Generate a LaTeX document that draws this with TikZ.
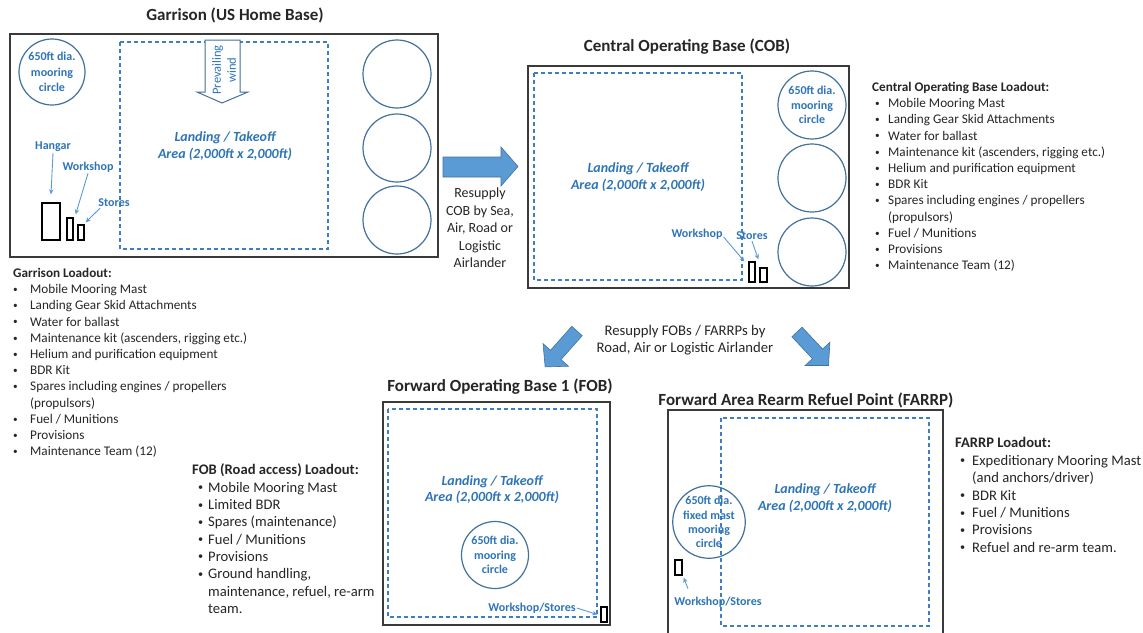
\documentclass[tikz,border=0pt]{standalone}
\usepackage{graphicx}
\usepackage{fontspec}
\setmainfont{Carlito}
\usetikzlibrary{arrows.meta}
\definecolor{txtblue}{HTML}{2E75B6}
\definecolor{lineblue}{HTML}{41719C}
\definecolor{fillblue}{HTML}{5B9BD5}
\definecolor{dashblue}{HTML}{3D7FC1}
\definecolor{boxgray}{HTML}{3A3A3A}
\definecolor{ink}{HTML}{262626}

% bullet lists: indent of the bullet and start of the item text
\newlength\bulind
\newlength\bultxt
\newcommand\smallbullet{\raisebox{0.1em}{\scalebox{0.7}{\textbullet}}}
\newcommand\bu{\makebox[\bultxt][l]{\hspace{\bulind}\smallbullet}}
\newcommand\bc{\hspace{\bultxt}}

\begin{document}
\begin{tikzpicture}[x=1pt,y=-1pt,
  sitebox/.style={draw=boxgray, line width=1.3pt},
  landing/.style={draw=dashblue, line width=1.25pt, dash pattern=on 4pt off 3pt},
  moor/.style={circle, draw=lineblue, line width=1.2pt, inner sep=0pt, minimum size=#1,
    text=txtblue, font=\fontsize{12}{15}\selectfont\bfseries, align=center},
  sitetitle/.style={font=\fontsize{17}{20}\selectfont\bfseries, text=ink, inner sep=0pt},
  areatxt/.style={font=\fontsize{14}{17}\selectfont\bfseries\itshape, text=txtblue, align=center, inner sep=0pt},
  lbl/.style={font=\fontsize{12}{14}\selectfont\bfseries, text=txtblue, inner sep=1pt},
  bldg/.style={draw=black, line width=1.3pt, inner sep=0pt},
  ptr/.style={draw=fillblue, line width=0.9pt, -{Stealth[length=5pt,width=4.5pt]}},
  bigarrow/.style={fill=fillblue, draw=lineblue, line width=0.6pt},
  windarrow/.style={fill=white, draw=lineblue, line width=1pt},
  loadout/.style={anchor=north west, inner sep=0pt, text=ink},
  resup/.style={text=ink, align=center, inner sep=0pt}
]
\useasboundingbox (0,0) rectangle (1143,632);
\fill[white] (0,0) rectangle (1143,632);

% ---------------- Garrison ----------------
\node[sitetitle] (gtitle) at (235,15) {Garrison (US Home Base)};
\draw[sitebox] (10,34) rectangle (438,257);
\draw[landing] (120,42) rectangle (328,249);
\draw[windarrow] (205,40) -- (240,40) -- (240,92) -- (248,92) -- (222,103) -- (197,92) -- (205,92) -- cycle;
\node[rotate=90, text=txtblue, align=center, inner sep=0pt, font=\fontsize{12.5}{15}\selectfont] (wind) at (224,70) {Prevailing\\wind};
\node[moor=66pt, font=\fontsize{12}{15.7}\selectfont\bfseries] (gmoor) at (52,72) {650ft dia.\\mooring\\circle};
\node[moor=68pt] (gc1) at (397,74) {};
\node[moor=68pt] (gc2) at (397,148) {};
\node[moor=68pt] (gc3) at (397,220) {};
\node[areatxt] (gland) at (225,146) {Landing / Takeoff\\Area (2,000ft x 2,000ft)};

\node[bldg, minimum width=18pt, minimum height=37pt] (hangar) at (51,221.5) {};
\node[bldg, minimum width=6pt, minimum height=22pt] (gws) at (70,229) {};
\node[bldg, minimum width=6pt, minimum height=15pt] (gst) at (81,232.5) {};
\node[lbl] (hangarl) at (53,147) {Hangar};
\node[lbl] (gwsl) at (88,167) {Workshop};
\node[lbl] (gstl) at (114,203) {Stores};
\draw[ptr] (hangarl.south) -- ([yshift=8pt]hangar.north);
\draw[ptr] (gwsl.south) -- ([shift={(2pt,3pt)}]gws.north east);
\draw[ptr] ([xshift=-14pt]gstl.south) -- ([shift={(1pt,2pt)}]gst.north east);

\node[loadout, font=\fontsize{13.2}{16.2}\selectfont] (glist) at (13,266) {%
\setlength\bulind{0pt}\setlength\bultxt{17pt}%
\begin{tabular}{@{}l@{}}
\textbf{Garrison Loadout:}\\
\bu Mobile Mooring Mast\\
\bu Landing Gear Skid Attachments\\
\bu Water for ballast\\
\bu Maintenance kit (ascenders, rigging etc.)\\
\bu Helium and purification equipment\\
\bu BDR Kit\\
\bu Spares including engines / propellers\\
\bc (propulsors)\\
\bu Fuel / Munitions\\
\bu Provisions\\
\bu Maintenance Team (12)
\end{tabular}};

% ---------------- Garrison -> COB ----------------
\draw[bigarrow] (443,157) -- (501,157) -- (501,147) -- (518,166.5) -- (501,186) -- (501,177) -- (443,177) -- cycle;
\node[resup, font=\fontsize{14}{17.5}\selectfont] (resupcob) at (480,228) {Resupply\\COB by Sea,\\Air, Road or\\Logistic\\Airlander};

% ---------------- Central Operating Base ----------------
\node[sitetitle] (ctitle) at (687,47) {Central Operating Base (COB)};
\draw[sitebox] (528,66) rectangle (849,288);
\draw[landing] (534,73) rectangle (742,280);
\node[moor=68pt, font=\fontsize{12}{14.5}\selectfont\bfseries] (cmoor) at (812,105) {650ft dia.\\mooring\\circle};
\node[moor=68pt] (cc2) at (812,178) {};
\node[moor=68pt] (cc3) at (812,252) {};
\node[areatxt] (cland) at (638,177.5) {Landing / Takeoff\\Area (2,000ft x 2,000ft)};

\node[bldg, minimum width=6pt, minimum height=20pt] (cws) at (752,272) {};
\node[bldg, minimum width=7pt, minimum height=14pt] (cst) at (763.5,275) {};
\node[lbl] (cwsl) at (697,234) {Workshop};
\node[lbl] (cstl) at (752,236) {Stores};
\draw[ptr] ([yshift=-3pt]cwsl.east) -- ([xshift=-4pt]cws.north west);
\draw[ptr] (cstl.south) -- ([shift={(-1pt,8pt)}]cst.north west);

\node[loadout, font=\fontsize{13.2}{16.2}\selectfont] (clist) at (872,80) {%
\setlength\bulind{3pt}\setlength\bultxt{16pt}%
\begin{tabular}{@{}l@{}}
\textbf{Central Operating Base Loadout:}\\
\bu Mobile Mooring Mast\\
\bu Landing Gear Skid Attachments\\
\bu Water for ballast\\
\bu Maintenance kit (ascenders, rigging etc.)\\
\bu Helium and purification equipment\\
\bu BDR Kit\\
\bu Spares including engines / propellers\\
\bc (propulsors)\\
\bu Fuel / Munitions\\
\bu Provisions\\
\bu Maintenance Team (12)
\end{tabular}};

% ---------------- COB -> FOB / FARRP ----------------
\begin{scope}[shift={(577,331)}, rotate=-131.6]
  \draw[bigarrow] (0,-7) -- (32,-7) -- (32,-17) -- (48,0) -- (32,17) -- (32,7) -- (0,7) -- cycle;
\end{scope}
\begin{scope}[shift={(797,332)}, rotate=-46.8]
  \draw[bigarrow] (0,-7) -- (30,-7) -- (30,-17) -- (46,0) -- (30,17) -- (30,7) -- (0,7) -- cycle;
\end{scope}
\node[resup, font=\fontsize{14.7}{16.7}\selectfont] (resupfwd) at (685,340) {Resupply FOBs / FARRPs by\\Road, Air or Logistic Airlander};

% ---------------- Forward Operating Base ----------------
\node[sitetitle] (ftitle) at (500,387) {Forward Operating Base 1 (FOB)};
\draw[sitebox] (383,402) rectangle (610,625);
\draw[landing] (388,409) rectangle (597,617);
\node[areatxt, font=\fontsize{14}{16}\selectfont\bfseries\itshape] (fland) at (492,490) {Landing / Takeoff\\Area (2,000ft x 2,000ft)};
\node[moor=67pt, font=\fontsize{12}{14.7}\selectfont\bfseries] (fmoor) at (495,555) {650ft dia.\\mooring\\circle};
\node[bldg, minimum width=6pt, minimum height=15pt] (fws) at (604,614.5) {};
\node[lbl] (fwsl) at (532,608) {Workshop/Stores};
\draw[ptr] (fwsl.east) -- ([xshift=-3pt]fws.west);

\node[loadout, font=\fontsize{14.6}{17.3}\selectfont] (flist) at (192,462.6) {%
\setlength\bulind{6pt}\setlength\bultxt{16pt}%
\begin{tabular}{@{}l@{}}
\textbf{FOB (Road access) Loadout:}\\
\bu Mobile Mooring Mast\\
\bu Limited BDR\\
\bu Spares (maintenance)\\
\bu Fuel / Munitions\\
\bu Provisions\\
\bu Ground handling,\\
\bc maintenance, refuel, re-arm\\
\bc team.
\end{tabular}};

% ---------------- Forward Area Rearm Refuel Point ----------------
\node[sitetitle] (rtitle) at (806,400) {Forward Area Rearm Refuel Point (FARRP)};
\draw[sitebox] (668,410) rectangle (943,645);
\draw[landing] (721,418) rectangle (929,626);
\node[areatxt] (rland) at (825,498) {Landing / Takeoff\\Area (2,000ft x 2,000ft)};
\node[moor=68pt, font=\fontsize{12}{14.3}\selectfont\bfseries] (rmoor) at (709,522) {650ft dia.\\fixed mast\\mooring\\circle};
\node[bldg, minimum width=7pt, minimum height=15pt] (rws) at (678.5,567.5) {};
\node[lbl] (rwsl) at (718,602) {Workshop/Stores};
\draw[ptr] ([shift={(-30pt,7pt)}]rwsl.north) -- ([shift={(1pt,-2pt)}]rws.south east);

\node[loadout, font=\fontsize{14.6}{17.4}\selectfont] (rlist) at (955,435.6) {%
\setlength\bulind{5pt}\setlength\bultxt{17pt}%
\begin{tabular}{@{}l@{}}
\textbf{FARRP Loadout:}\\
\bu Expeditionary Mooring Mast\\
\bc (and anchors/driver)\\
\bu BDR Kit\\
\bu Fuel / Munitions\\
\bu Provisions\\
\bu Refuel and re-arm team.
\end{tabular}};
\end{tikzpicture}
\end{document}
